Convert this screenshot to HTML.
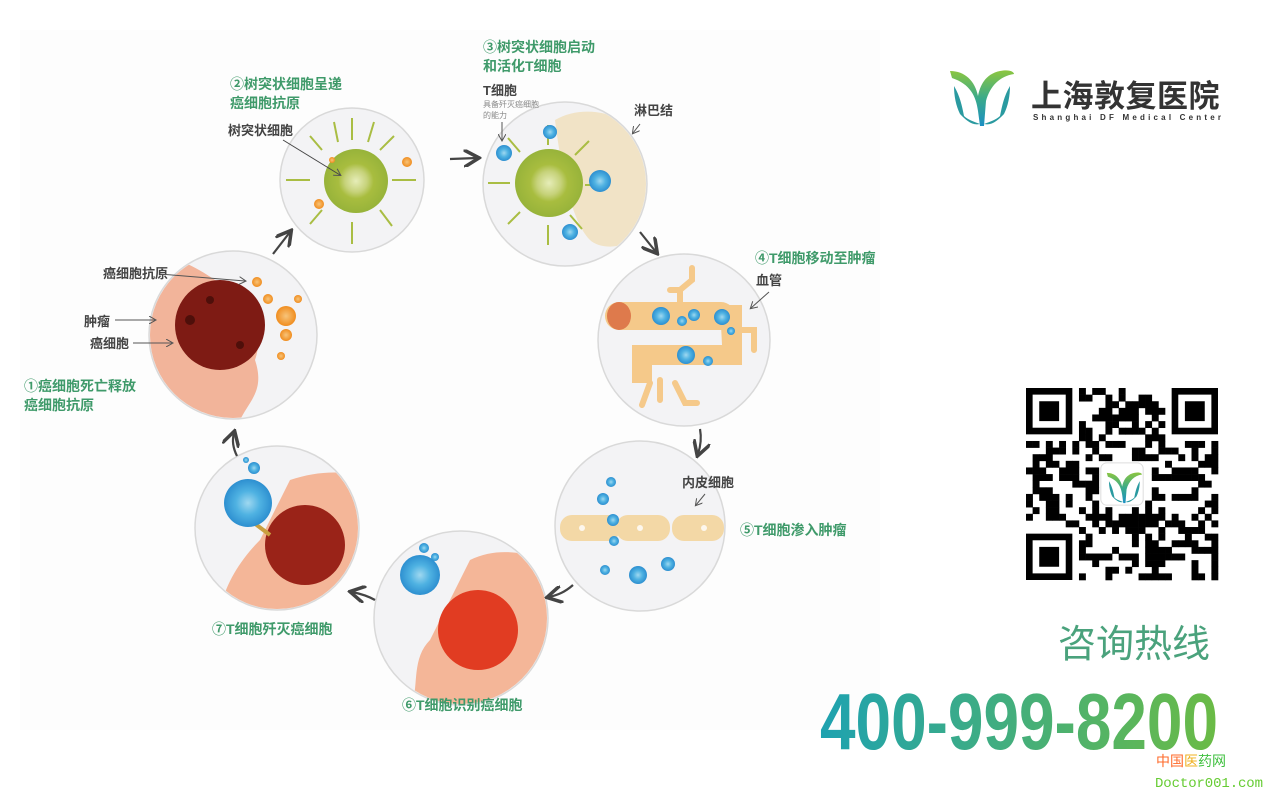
<!DOCTYPE html>
<html><head><meta charset="utf-8"><style>
html,body{margin:0;padding:0;background:#fff;}
body{width:1269px;height:794px;overflow:hidden;position:relative;font-family:"Liberation Sans","Noto Sans CJK SC",sans-serif;}
.g{fill:#3f9a6a;font-weight:bold;font-size:14px;}
.d{fill:#444;font-weight:bold;font-size:13px;}
</style></head><body>
<svg width="1269" height="794" viewBox="0 0 1269 794" xmlns="http://www.w3.org/2000/svg" font-family="Liberation Sans, Noto Sans CJK SC, sans-serif">
<defs>
<linearGradient id="ph" x1="0" x2="1"><stop offset="0" stop-color="#1ea2b0"/><stop offset="1" stop-color="#6bbb45"/></linearGradient>
<linearGradient id="lg" x1="0" y1="0" x2="0" y2="1"><stop offset="0" stop-color="#8cc63f"/><stop offset="0.5" stop-color="#3aaa8a"/><stop offset="1" stop-color="#1b8fc4"/></linearGradient>
<radialGradient id="gc"><stop offset="0" stop-color="#e6edb8"/><stop offset="0.35" stop-color="#c6d27a"/><stop offset="0.55" stop-color="#a8bd3f"/><stop offset="1" stop-color="#97b33a"/></radialGradient>
<radialGradient id="bc"><stop offset="0" stop-color="#9fd8f0"/><stop offset="0.5" stop-color="#4fb2e2"/><stop offset="1" stop-color="#2d8fd0"/></radialGradient>
<radialGradient id="oc"><stop offset="0" stop-color="#f7c47a"/><stop offset="1" stop-color="#f08d1f"/></radialGradient>
<marker id="ah" markerWidth="8" markerHeight="8" refX="6" refY="4" orient="auto"><path d="M0,0 L7,4 L0,8" fill="none" stroke="#444" stroke-width="1.6"/></marker>
<marker id="ah2" markerWidth="8" markerHeight="8" refX="6" refY="4" orient="auto"><path d="M0,0 L7,4 L0,8" fill="none" stroke="#555" stroke-width="1"/></marker>
</defs>
<rect x="20" y="30" width="860" height="700" fill="#fdfdfd"/>

<g stroke="#d9d9d9" stroke-width="1.5" fill="#f3f3f5">
<circle cx="233" cy="335" r="84"/>
<circle cx="352" cy="180" r="72"/>
<circle cx="565" cy="184" r="82"/>
<circle cx="684" cy="340" r="86"/>
<circle cx="640" cy="526" r="85"/>
<circle cx="461" cy="618" r="87"/>
<circle cx="277" cy="528" r="82"/>
</g>

<clipPath id="c1"><circle cx="233" cy="335" r="83"/></clipPath>
<g clip-path="url(#c1)">
<path d="M140,260 C175,250 200,270 230,290 C250,320 265,330 255,360 C265,390 250,400 240,420 L140,430 Z" fill="#f2b49a"/>
<circle cx="220" cy="325" r="45" fill="#7e1b14"/>
<circle cx="190" cy="320" r="5" fill="#4e0f0a"/><circle cx="210" cy="300" r="4" fill="#4e0f0a"/><circle cx="240" cy="345" r="4" fill="#4e0f0a"/>
<circle cx="257" cy="282" r="5" fill="url(#oc)"/><circle cx="268" cy="299" r="5" fill="url(#oc)"/><circle cx="286" cy="316" r="10" fill="url(#oc)"/><circle cx="286" cy="335" r="6" fill="url(#oc)"/><circle cx="281" cy="356" r="4" fill="url(#oc)"/><circle cx="298" cy="299" r="4" fill="url(#oc)"/>
</g>
<text class="d" x="103" y="278">癌细胞抗原</text>
<line x1="160" y1="274" x2="245" y2="281" stroke="#555" marker-end="url(#ah2)"/>
<text class="d" x="84" y="326">肿瘤</text>
<line x1="115" y1="320" x2="155" y2="320" stroke="#555" marker-end="url(#ah2)"/>
<text class="d" x="90" y="348">癌细胞</text>
<line x1="133" y1="343" x2="172" y2="343" stroke="#555" marker-end="url(#ah2)"/>
<text class="g" x="24" y="391">①癌细胞死亡释放</text>
<text class="g" x="24" y="410">癌细胞抗原</text>

<g stroke="#a9bd43" stroke-width="2" fill="none">
<path d="M352,140 v-22 M380,150 l14,-14 M392,180 h24 M380,210 l12,16 M352,222 v22 M322,210 l-12,14 M310,180 h-24 M322,150 l-12,-14 M338,142 l-4,-20 M368,142 l6,-20"/>
</g>
<circle cx="356" cy="181" r="32" fill="url(#gc)"/>
<circle cx="407" cy="162" r="5" fill="url(#oc)"/><circle cx="319" cy="204" r="5" fill="url(#oc)"/><circle cx="332" cy="160" r="3" fill="url(#oc)"/>
<text class="d" x="228" y="135">树突状细胞</text>
<line x1="283" y1="140" x2="340" y2="175" stroke="#444" marker-end="url(#ah2)"/>
<text class="g" x="230" y="89">②树突状细胞呈递</text>
<text class="g" x="230" y="108">癌细胞抗原</text>

<clipPath id="c3"><circle cx="565" cy="184" r="81"/></clipPath>
<g clip-path="url(#c3)">
<path d="M555,120 C580,105 620,110 640,135 C660,160 650,200 645,230 C630,250 600,250 590,240 C570,220 560,160 555,120 Z" fill="#f1e3c6"/>
</g>
<g stroke="#a9bd43" stroke-width="2" fill="none"><path d="M548,145 v-20 M575,155 l14,-14 M585,185 h22 M570,215 l12,14 M548,225 v20 M520,212 l-12,12 M510,183 h-22 M520,152 l-12,-14"/></g>
<circle cx="549" cy="183" r="34" fill="url(#gc)"/>
<circle cx="504" cy="153" r="8" fill="url(#bc)"/><circle cx="550" cy="132" r="7" fill="url(#bc)"/><circle cx="600" cy="181" r="11" fill="url(#bc)"/><circle cx="570" cy="232" r="8" fill="url(#bc)"/>
<text class="g" x="483" y="52">③树突状细胞启动</text>
<text class="g" x="483" y="71">和活化T细胞</text>
<text class="d" x="483" y="95">T细胞</text>
<text x="483" y="107" font-size="8" fill="#888">具备歼灭癌细胞</text>
<text x="483" y="118" font-size="8" fill="#888">的能力</text>
<line x1="502" y1="122" x2="502" y2="140" stroke="#555" marker-end="url(#ah2)"/>
<text class="d" x="634" y="115">淋巴结</text>
<line x1="640" y1="124" x2="633" y2="133" stroke="#555" marker-end="url(#ah2)"/>

<g fill="#f5c98a">
<rect x="605" y="302" width="130" height="28" rx="14"/>
<path d="M720,305 h22 v60 h-90 v18 h-20 v-38 h90 z"/>
</g>
<g stroke="#f5c98a" stroke-width="6" fill="none" stroke-linecap="round">
<path d="M680,302 v-12 h-10 M680,290 l12,-10 v-12"/><path d="M742,330 h12 v20"/><path d="M660,380 v20 M650,383 l-8,22 M675,383 l10,20 h12"/>
</g>
<ellipse cx="619" cy="316" rx="12" ry="14" fill="#de7a4c"/>
<circle cx="661" cy="316" r="9" fill="url(#bc)"/><circle cx="682" cy="321" r="5" fill="url(#bc)"/><circle cx="694" cy="315" r="6" fill="url(#bc)"/><circle cx="722" cy="317" r="8" fill="url(#bc)"/><circle cx="731" cy="331" r="4" fill="url(#bc)"/><circle cx="686" cy="355" r="9" fill="url(#bc)"/><circle cx="708" cy="361" r="5" fill="url(#bc)"/>
<text class="g" x="755" y="263">④T细胞移动至肿瘤</text>
<text class="d" x="756" y="285">血管</text>
<line x1="769" y1="292" x2="751" y2="308" stroke="#555" marker-end="url(#ah2)"/>

<g fill="#f3d8a6"><rect x="560" y="515" width="60" height="26" rx="12"/><rect x="616" y="515" width="54" height="26" rx="12"/><rect x="672" y="515" width="52" height="26" rx="12"/></g>
<circle cx="582" cy="528" r="3" fill="#fff" opacity=".8"/><circle cx="640" cy="528" r="3" fill="#fff" opacity=".8"/><circle cx="704" cy="528" r="3" fill="#fff" opacity=".8"/>
<circle cx="611" cy="482" r="5" fill="url(#bc)"/><circle cx="603" cy="499" r="6" fill="url(#bc)"/><circle cx="613" cy="520" r="6" fill="url(#bc)"/><circle cx="614" cy="541" r="5" fill="url(#bc)"/><circle cx="605" cy="570" r="5" fill="url(#bc)"/><circle cx="638" cy="575" r="9" fill="url(#bc)"/><circle cx="668" cy="564" r="7" fill="url(#bc)"/>
<text class="d" x="682" y="487">内皮细胞</text>
<line x1="705" y1="494" x2="696" y2="505" stroke="#555" marker-end="url(#ah2)"/>
<text class="g" x="740" y="535">⑤T细胞渗入肿瘤</text>

<clipPath id="c6"><circle cx="461" cy="618" r="86"/></clipPath>
<g clip-path="url(#c6)">
<path d="M470,560 C500,545 530,555 550,560 L560,710 L410,710 C420,690 410,660 430,640 Z" fill="#f4b698"/>
<circle cx="478" cy="630" r="40" fill="#e13c22"/>
</g>
<circle cx="420" cy="575" r="20" fill="url(#bc)"/><circle cx="424" cy="548" r="5" fill="url(#bc)"/><circle cx="435" cy="557" r="4" fill="url(#bc)"/>
<text class="g" x="402" y="710">⑥T细胞识别癌细胞</text>

<clipPath id="c7"><circle cx="277" cy="528" r="81"/></clipPath>
<g clip-path="url(#c7)">
<path d="M290,480 C320,470 350,470 370,480 L370,620 L220,620 C220,590 240,560 260,540 Z" fill="#f4b698"/>
<circle cx="305" cy="545" r="40" fill="#9a2318"/>
</g>
<line x1="250" y1="520" x2="270" y2="535" stroke="#c9a040" stroke-width="4"/>
<circle cx="248" cy="503" r="24" fill="url(#bc)"/><circle cx="254" cy="468" r="6" fill="url(#bc)"/><circle cx="246" cy="460" r="3" fill="url(#bc)"/>
<text class="g" x="212" y="634">⑦T细胞歼灭癌细胞</text>

<g stroke="#444" stroke-width="2.2" fill="none" marker-end="url(#ah)">
<line x1="273" y1="254" x2="290" y2="232"/>
<line x1="450" y1="159" x2="477" y2="158"/>
<line x1="640" y1="232" x2="656" y2="252"/>
<path d="M700,429 C702,440 700,448 698,454"/>
<path d="M573,585 C565,592 558,595 549,597"/>
<path d="M375,600 C368,596 362,594 352,592"/>
<path d="M237,456 C233,448 232,440 234,433"/>
</g>

<g transform="translate(950,66)">
<path d="M0,5 C15,5 25,15 28,30 C30,20 35,8 50,5 C60,3 64,6 64,8 C50,10 40,20 36,35 L34,60 L30,60 L28,45 C26,30 20,18 2,12 Z" fill="url(#lg)"/>
<path d="M4,20 C10,30 12,40 14,50 C18,54 25,56 30,58 C22,60 16,54 10,48 C6,40 4,30 4,20 Z" fill="#2a9aa0"/>
<path d="M60,20 C54,30 52,40 50,50 C46,54 39,56 34,58 C42,60 48,54 54,48 C58,40 60,30 60,20 Z" fill="#2a9aa0"/>
</g>
<text x="1031" y="107" font-size="31" fill="#333" font-weight="bold" letter-spacing="0.5">上海敦复医院</text>
<text x="1033" y="120" font-size="8" fill="#333" letter-spacing="3.2" font-weight="bold">Shanghai DF Medical Center</text>

<g id="qr" transform="translate(1026,388)"></g>

<text x="1058" y="657" font-size="38" fill="#4aa27c">咨询热线</text>
<text x="0" y="0" font-size="80" font-weight="bold" fill="url(#ph)" transform="translate(820,749)" textLength="398" lengthAdjust="spacingAndGlyphs">400-999-8200</text>
<text x="1156" y="766" font-size="14"><tspan fill="#ff6a2a">中国</tspan><tspan fill="#f0b020">医</tspan><tspan fill="#40c040">药网</tspan></text>
<text x="1155" y="787" font-size="14" fill="#66cc33" font-family="Liberation Mono, monospace" textLength="108">Doctor001.com</text>
</svg>
<script>
(function(){
var g=document.getElementById('qr'),N=29,s=192/N,h='';
var seed=7;function r(){seed=(seed*16807)%2147483647;return seed/2147483647;}
function fin(x,y){return '<rect x="'+x*s+'" y="'+y*s+'" width="'+7*s+'" height="'+7*s+'" fill="#000"/><rect x="'+(x+1)*s+'" y="'+(y+1)*s+'" width="'+5*s+'" height="'+5*s+'" fill="#fff"/><rect x="'+(x+2)*s+'" y="'+(y+2)*s+'" width="'+3*s+'" height="'+3*s+'" fill="#000"/>';}
for(var i=0;i<N;i++)for(var j=0;j<N;j++){
 if((i<8&&j<8)||(i<8&&j>N-9)||(i>N-9&&j<8))continue;
 if(i>10&&i<18&&j>10&&j<18)continue;
 if(r()<0.52)h+='<rect x="'+(j*s).toFixed(2)+'" y="'+(i*s).toFixed(2)+'" width="'+(s+0.3).toFixed(2)+'" height="'+(s+0.3).toFixed(2)+'" fill="#000"/>';
}
h+=fin(0,0)+fin(N-7,0)+fin(0,N-7);
h+='<rect x="'+11.3*s+'" y="'+11.3*s+'" width="'+6.4*s+'" height="'+6.4*s+'" rx="6" fill="#fff" stroke="#ddd"/>';
h+='<g transform="translate('+(12.2*s)+','+(12.4*s)+') scale(0.55)"><path d="M0,5 C15,5 25,15 28,30 C30,20 35,8 50,5 C60,3 64,6 64,8 C50,10 40,20 36,35 L34,60 L30,60 L28,45 C26,30 20,18 2,12 Z" fill="url(#lg)"/><path d="M4,20 C10,30 12,40 14,50 C18,54 25,56 30,58 C22,60 16,54 10,48 C6,40 4,30 4,20 Z" fill="#2a9aa0"/><path d="M60,20 C54,30 52,40 50,50 C46,54 39,56 34,58 C42,60 48,54 54,48 C58,40 60,30 60,20 Z" fill="#2a9aa0"/></g>';
g.innerHTML=h;
})();
</script>
</body></html>
